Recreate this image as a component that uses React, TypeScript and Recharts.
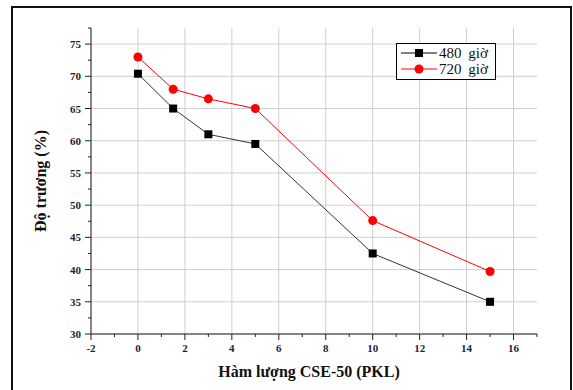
import { LineChart, Line, XAxis, YAxis, CartesianGrid, Legend, Label } from 'recharts';

const xValues = [0, 1.5, 3, 5, 10, 15];
const series480 = [70.4, 65, 61, 59.5, 42.5, 35];
const series720 = [73, 68, 66.5, 65, 47.6, 39.7];

const xTicks = [-2, -1, 0, 1, 2, 3, 4, 5, 6, 7, 8, 9, 10, 11, 12, 13, 14, 15, 16, 17];
const yTicks = [30, 32.5, 35, 37.5, 40, 42.5, 45, 47.5, 50, 52.5, 55, 57.5, 60, 62.5, 65, 67.5, 70, 72.5, 75, 77.5];
const xGrid = [-2, 0, 2, 4, 6, 8, 10, 12, 14, 16];
const yGrid = [30, 35, 40, 45, 50, 55, 60, 65, 70, 75];

const data = xValues.map((x, i) => ({ x, a: series480[i], b: series720[i] }));

const SERIF = '"Liberation Serif", "DejaVu Serif", serif';
const TICK_COLOR = '#1c2340';

function XTick({ x, y, payload }: any) {
  const v = payload.value;
  const major = v % 2 === 0;
  return (
    <g>
      <line x1={x} x2={x} y1={y} y2={y + (major ? 6 : 3)} stroke="#222" />
      {major && (
        <text x={x} y={y + 18} textAnchor="middle" fontSize={11} fontWeight="bold" fontFamily={SERIF} fill={TICK_COLOR}>
          {v}
        </text>
      )}
    </g>
  );
}

function YTick({ x, y, payload }: any) {
  const v = payload.value;
  const major = v % 5 === 0;
  return (
    <g>
      <line x1={x - (major ? 6 : 3)} x2={x} y1={y} y2={y} stroke="#222" />
      {major && (
        <text x={x - 10} y={y + 4} textAnchor="end" fontSize={11} fontWeight="bold" fontFamily={SERIF} fill={TICK_COLOR}>
          {v}
        </text>
      )}
    </g>
  );
}

function SquareDot({ cx, cy, index }: any) {
  return <rect key={`sq-${index}`} x={cx - 4} y={cy - 4} width={8} height={8} fill="#000" />;
}

function LegendBox() {
  const rows = [
    { label: '480 giờ', color: '#000', square: true },
    { label: '720 giờ', color: '#ff0000', square: false },
  ];
  return (
    <div style={{ border: '1px solid #000', background: '#fff', width: 98, height: 33, fontFamily: SERIF, padding: '1px 0' }}>
      {rows.map((r) => (
        <div key={r.label} style={{ display: 'flex', alignItems: 'center', height: 16 }}>
          <svg width={42} height={16}>
            <line x1={4} x2={40} y1={8} y2={8} stroke={r.color} strokeWidth={1} />
            {r.square ? (
              <rect x={18} y={4} width={8} height={8} fill={r.color} />
            ) : (
              <circle cx={22} cy={8} r={4.5} fill={r.color} />
            )}
          </svg>
          <span style={{ fontSize: 15, wordSpacing: 3, color: '#111', lineHeight: '16px' }}>{r.label}</span>
        </div>
      ))}
    </div>
  );
}

export default function App() {
  return (
    <div style={{ position: 'absolute', left: 0, top: 0, width: 573, height: 390, overflow: 'hidden', background: '#fff' }}>
      <div style={{ position: 'absolute', left: 11, top: 6, width: 557, height: 420, border: '2px solid #111' }} />
      <div style={{ position: 'absolute', left: 0, top: 0 }}>
        <LineChart width={573} height={390} data={data} margin={{ top: 28, right: 36, left: 31, bottom: 26 }}>
          <CartesianGrid stroke="#cfcfcf" verticalValues={xGrid} horizontalValues={yGrid} />
          <XAxis
            dataKey="x"
            type="number"
            domain={[-2, 17]}
            ticks={xTicks}
            interval={0}
            height={30}
            tickSize={0}
            tickMargin={0}
            tickLine={false}
            tick={<XTick />}
            stroke="#222"
            allowDataOverflow
          >
            <Label
              value="Hàm lượng CSE-50 (PKL)"
              position="center"
              dx={-5}
              dy={22}
              style={{ fontFamily: SERIF, fontSize: 16, fontWeight: 'bold', fill: '#111' }}
            />
          </XAxis>
          <YAxis
            type="number"
            domain={[30, 77.5]}
            ticks={yTicks}
            interval={0}
            width={60}
            tickSize={0}
            tickMargin={0}
            tickLine={false}
            tick={<YTick />}
            stroke="#222"
            allowDataOverflow
          >
            <Label
              value="Độ trương (%)"
              angle={-90}
              position="center"
              dx={-21}
              style={{ fontFamily: SERIF, fontSize: 16, fontWeight: 'bold', fill: '#111', textAnchor: 'middle' }}
            />
          </YAxis>
          <Legend
            layout="horizontal"
            verticalAlign="middle"
            align="center"
            wrapperStyle={{ left: 396, top: 43, width: 100, height: 36 }}
            content={() => <LegendBox />}
          />
          <Line
            type="linear"
            dataKey="a"
            name="480 giờ"
            stroke="#333"
            strokeWidth={1}
            dot={SquareDot}
            activeDot={false}
            isAnimationActive={false}
          />
          <Line
            type="linear"
            dataKey="b"
            name="720 giờ"
            stroke="#ff0000"
            strokeWidth={1}
            dot={{ r: 4.5, fill: '#ff0000', stroke: '#ff0000', strokeWidth: 0 }}
            activeDot={false}
            isAnimationActive={false}
          />
        </LineChart>
      </div>
    </div>
  );
}
